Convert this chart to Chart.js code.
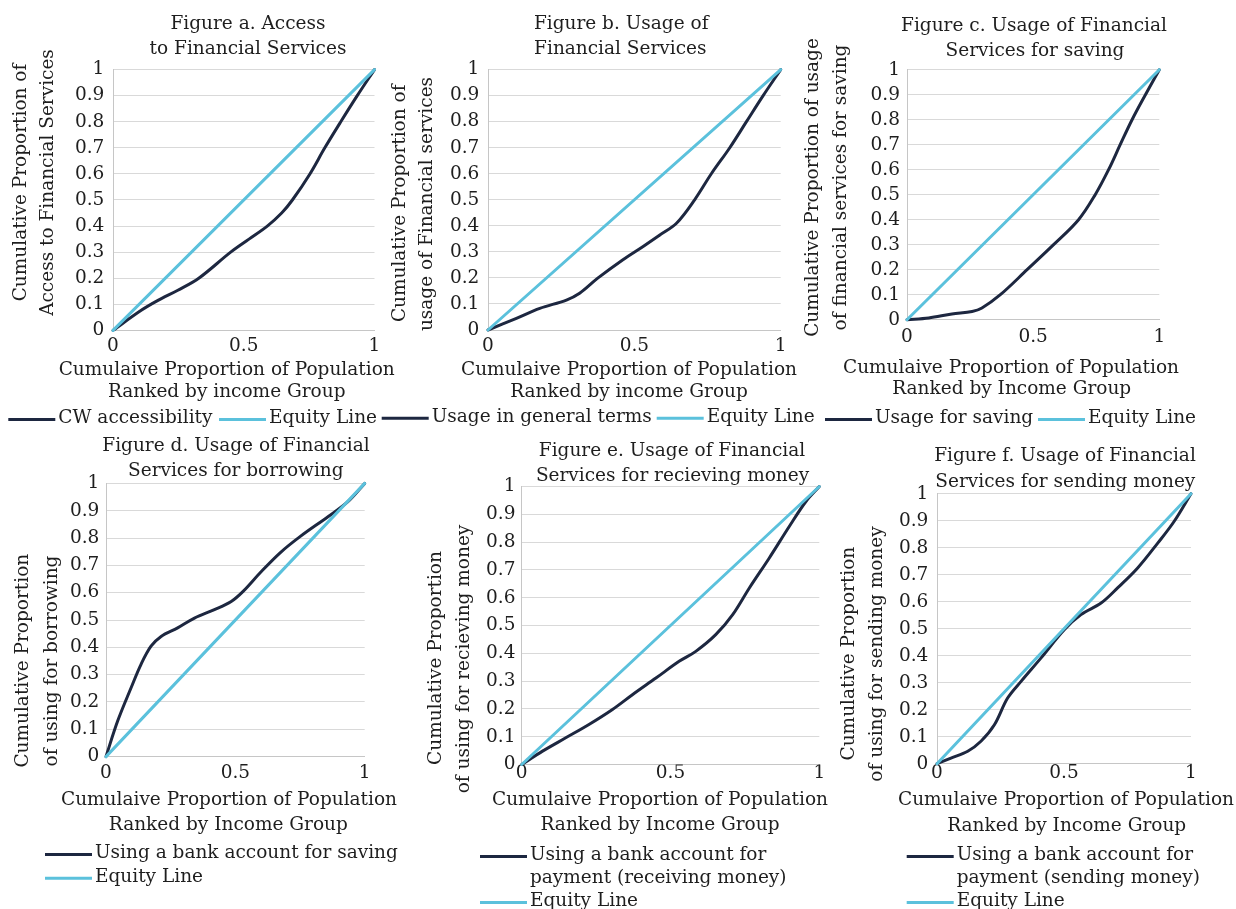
<!DOCTYPE html>
<html>
<head>
<meta charset="utf-8">
<script src="https://cdn.jsdelivr.net/npm/chart.js@4.4.1/dist/chart.umd.min.js"></script>
<style>
html,body{margin:0;padding:0;background:#ffffff;}
#wrap{position:relative;width:1236px;height:909px;overflow:hidden;background:#fff;}
#wrap canvas{position:absolute;left:0;top:0;}
</style>
</head>
<body>
<div id="wrap"></div>
<script>
// ---------- tick values and labels ----------
const xTickValues = [0, 0.5, 1];
const xTickLabels = ['0', '0.5', '1'];
const yTickValues = [0, 0.1, 0.2, 0.3, 0.4, 0.5, 0.6, 0.7, 0.8, 0.9, 1];
const yTickLabels = ['0', '0.1', '0.2', '0.3', '0.4', '0.5', '0.6', '0.7', '0.8', '0.9', '1'];

// ---------- equity line ----------
const equityX = [0, 1];
const equityY = [0, 1];

// ---------- Figure a: access ----------
const accessX = [0, 0.108, 0.172, 0.248, 0.328, 0.45, 0.52, 0.59, 0.645, 0.686, 0.753, 0.81, 0.871, 0.934, 1];
const accessY = [0, 0.077, 0.115, 0.154, 0.2, 0.3, 0.35, 0.4, 0.45, 0.5, 0.6, 0.7, 0.8, 0.9, 1];

// ---------- Figure b: usage ----------
const usageX = [0, 0.097, 0.177, 0.268, 0.313, 0.376, 0.461, 0.53, 0.587, 0.644, 0.706, 0.763, 0.826, 0.883, 0.94, 1];
const usageY = [0, 0.045, 0.083, 0.115, 0.141, 0.2, 0.27, 0.321, 0.365, 0.41, 0.5, 0.6, 0.7, 0.8, 0.9, 1];

// ---------- Figure c: saving ----------
const savingX = [0, 0.086, 0.178, 0.258, 0.297, 0.37, 0.476, 0.581, 0.68, 0.746, 0.799, 0.845, 0.892, 0.945, 1];
const savingY = [0, 0.007, 0.023, 0.033, 0.047, 0.1, 0.2, 0.3, 0.4, 0.5, 0.6, 0.7, 0.8, 0.9, 1];

// ---------- Figure d: borrowing ----------
const borrowX = [0, 0.045, 0.097, 0.135, 0.174, 0.213, 0.277, 0.342, 0.419, 0.484, 0.53, 0.595, 0.672, 0.75, 0.858, 0.935, 1];
const borrowY = [0, 0.13, 0.252, 0.337, 0.404, 0.44, 0.471, 0.507, 0.538, 0.568, 0.605, 0.672, 0.745, 0.805, 0.878, 0.933, 1];

// ---------- Figure e: receiving money ----------
const receiveX = [0, 0.07, 0.148, 0.226, 0.305, 0.372, 0.451, 0.529, 0.585, 0.652, 0.709, 0.765, 0.832, 0.899, 0.955, 1];
const receiveY = [0, 0.048, 0.096, 0.144, 0.198, 0.251, 0.311, 0.371, 0.407, 0.467, 0.539, 0.635, 0.743, 0.856, 0.946, 1];

// ---------- Figure f: sending money ----------
const sendX = [0, 0.055, 0.121, 0.173, 0.226, 0.278, 0.331, 0.409, 0.501, 0.567, 0.646, 0.711, 0.79, 0.869, 0.934, 1];
const sendY = [0, 0.021, 0.046, 0.083, 0.144, 0.243, 0.305, 0.391, 0.496, 0.552, 0.595, 0.651, 0.725, 0.817, 0.898, 1];

// ---------- styles ----------
const NAVY = '#1d2740';
const BLUE = '#5bc1dc';
const GRID = '#d9d9d9';
const AXIS = '#c6c6c6';
const TEXT = '#1e1e1e';
const FONT = '"DejaVu Serif", "Liberation Serif", serif';
const FS = 18.5;

function pts(xs, ys) { return xs.map((x, i) => ({x: x, y: ys[i]})); }

// Layout of each panel (plot box in page pixels, and text anchors)
const panels = [
  { series: 'CW accessibility', xs: accessX, ys: accessY,
    plot: {l: 113, r: 374.5, t: 69.6, b: 330.4}, yPad: 8.7, xPad: 5,
    title: [['Figure a. Access', 248, 24.2], ['to Financial Services', 248, 49.2]],
    ytitle: [['Cumulative Proportion of', 21.5, 182.5], ['Access to Financial Services', 48, 182.5]],
    xtitle: [['Cumulaive Proportion of Population', 226.7, 370], ['Ranked by income Group', 226.7, 392]],
    legend: [{sx: 8.3, y: 418, lines: ['CW accessibility'], ds: 1}, {sx: 219, y: 418, lines: ['Equity Line'], ds: 0}] },
  { series: 'Usage in general terms', xs: usageX, ys: usageY,
    plot: {l: 488, r: 780.7, t: 69.6, b: 330}, yPad: 8.7, xPad: 5.4,
    title: [['Figure b. Usage of', 621.2, 24], ['Financial Services', 620.3, 49]],
    ytitle: [['Cumulative Proportion of', 400, 203.3], ['usage of Financial services', 427.3, 204]],
    xtitle: [['Cumulaive Proportion of Population', 629, 370], ['Ranked by income Group', 629, 392]],
    legend: [{sx: 381.7, y: 416.7, lines: ['Usage in general terms'], ds: 1}, {sx: 656.7, y: 416.7, lines: ['Equity Line'], ds: 0}] },
  { series: 'Usage for saving', xs: savingX, ys: savingY,
    plot: {l: 907, r: 1159.3, t: 69.7, b: 319.7}, yPad: 7, xPad: 6.7,
    title: [['Figure c. Usage of Financial', 1034, 26], ['Services for saving', 1035, 51]],
    ytitle: [['Cumulative Proportion of usage', 813, 187.5], ['of financial services for saving', 841.3, 187.5]],
    xtitle: [['Cumulaive Proportion of Population', 1011, 368.5], ['Ranked by Income Group', 1011.7, 389.5]],
    legend: [{sx: 825, y: 418, lines: ['Usage for saving'], ds: 1}, {sx: 1038, y: 418, lines: ['Equity Line'], ds: 0}] },
  { series: 'Using a bank account for saving', xs: borrowX, ys: borrowY,
    plot: {l: 106, r: 364.7, t: 483.4, b: 756.6}, yPad: 6.7, xPad: 5.8,
    title: [['Figure d. Usage of Financial', 236, 446], ['Services for borrowing', 235.8, 471]],
    ytitle: [['Cumulative Proportion', 23.3, 660.7], ['of using for borrowing', 51.7, 661]],
    xtitle: [['Cumulaive Proportion of Population', 229, 800], ['Ranked by Income Group', 228.3, 825]],
    legend: [{sx: 45, y: 853, lines: ['Using a bank account for saving'], ds: 1}, {sx: 45, y: 876.7, lines: ['Equity Line'], ds: 0}] },
  { series: 'Using a bank account for payment (receiving money)', xs: receiveX, ys: receiveY,
    plot: {l: 521.7, r: 819.3, t: 486.5, b: 764.5}, yPad: 6.3, xPad: -2.1,
    title: [['Figure e. Usage of Financial', 672, 451.2], ['Services for recieving money', 672.5, 476.3]],
    ytitle: [['Cumulative Proportion', 436.2, 658], ['of using for recieving money', 464.2, 659]],
    xtitle: [['Cumulaive Proportion of Population', 660, 800], ['Ranked by Income Group', 660, 825]],
    legend: [{sx: 480, y: 855, lines: ['Using a bank account for', 'payment (receiving money)'], ds: 1}, {sx: 480, y: 901, lines: ['Equity Line'], ds: 0}] },
  { series: 'Using a bank account for payment (sending money)', xs: sendX, ys: sendY,
    plot: {l: 937, r: 1191, t: 493.7, b: 763.7}, yPad: 8.7, xPad: -1.3,
    title: [['Figure f. Usage of Financial', 1065, 456.3], ['Services for sending money', 1065.3, 481.8]],
    ytitle: [['Cumulative Proportion', 849, 653.6], ['of using for sending money', 876.7, 654]],
    xtitle: [['Cumulaive Proportion of Population', 1066, 800], ['Ranked by Income Group', 1066.7, 826]],
    legend: [{sx: 906.7, y: 855, lines: ['Using a bank account for', 'payment (sending money)'], ds: 1}, {sx: 906.7, y: 901, lines: ['Equity Line'], ds: 0}] }
];

// Plugin that writes the chart title, axis titles and legend of a panel
const panelText = {
  id: 'panelText',
  afterDraw(chart, args, opts) {
    const p = opts.panel;
    if (!p) return;
    const ctx = chart.ctx;
    ctx.save();
    ctx.fillStyle = TEXT;
    ctx.font = FS + 'px ' + FONT;
    ctx.textBaseline = 'middle';
    ctx.textAlign = 'center';
    p.title.concat(p.xtitle).forEach(t => ctx.fillText(t[0], t[1], t[2]));
    p.ytitle.forEach(t => {
      ctx.save();
      ctx.translate(t[1], t[2]);
      ctx.rotate(-Math.PI / 2);
      ctx.fillText(t[0], 0, 0);
      ctx.restore();
    });
    // legend
    p.legend.forEach(item => {
      const ds = chart.data.datasets[item.ds];
      ctx.strokeStyle = ds.borderColor;
      ctx.lineWidth = 3;
      ctx.lineCap = 'butt';
      ctx.beginPath();
      ctx.moveTo(item.sx, item.y + 1.5);
      ctx.lineTo(item.sx + 47, item.y + 1.5);
      ctx.stroke();
      ctx.textAlign = 'left';
      item.lines.forEach((ln, k) => ctx.fillText(ln, item.sx + 50, item.y + k * 23));
    });
    ctx.restore();
  }
};

const wrap = document.getElementById('wrap');
panels.forEach(p => {
  const cv = document.createElement('canvas');
  cv.width = 1236; cv.height = 909;
  cv.style.width = '1236px'; cv.style.height = '909px';
  wrap.appendChild(cv);
  const Y_W = 60, X_H = 40;
  new Chart(cv, {
    type: 'scatter',
    data: {
      datasets: [
        { label: 'Equity Line', data: pts(equityX, equityY), showLine: true,
          borderColor: BLUE, backgroundColor: BLUE, borderWidth: 3, pointRadius: 0,
          tension: 0, clip: false, borderCapStyle: 'round', order: 0 },
        { label: p.series, data: pts(p.xs, p.ys), showLine: true,
          borderColor: NAVY, backgroundColor: NAVY, borderWidth: 3, pointRadius: 0,
          tension: 0.35, clip: false, borderCapStyle: 'round', borderJoinStyle: 'round', order: 1 }
      ]
    },
    options: {
      responsive: false, animation: false, events: [],
      layout: { autoPadding: false, padding: { left: p.plot.l - Y_W, right: 1236 - p.plot.r, top: p.plot.t, bottom: 909 - p.plot.b - X_H } },
      plugins: { legend: { display: false }, tooltip: { enabled: false }, title: { display: false },
                 panelText: { panel: p } },
      scales: {
        x: {
          type: 'linear', min: 0, max: 1,
          afterBuildTicks: s => { s.ticks = xTickValues.map(v => ({value: v})); },
          afterFit: s => { s.height = X_H; },
          ticks: { autoSkip: false, maxRotation: 0, padding: p.xPad, color: TEXT,
                   font: { family: FONT, size: FS, lineHeight: 1.2 },
                   callback: (v, i) => xTickLabels[i] },
          grid: { display: false, drawTicks: false },
          border: { display: true, color: AXIS, width: 1 }
        },
        y: {
          type: 'linear', min: 0, max: 1,
          afterBuildTicks: s => { s.ticks = yTickValues.map(v => ({value: v})); },
          afterFit: s => { s.width = Y_W; },
          ticks: { autoSkip: false, padding: p.yPad, color: TEXT,
                   font: { family: FONT, size: FS, lineHeight: 1.2 },
                   callback: (v, i) => yTickLabels[i] },
          grid: { color: GRID, lineWidth: 1, drawTicks: false },
          border: { display: true, color: AXIS, width: 1 }
        }
      }
    },
    plugins: [panelText]
  });
});
</script>
</body>
</html>
